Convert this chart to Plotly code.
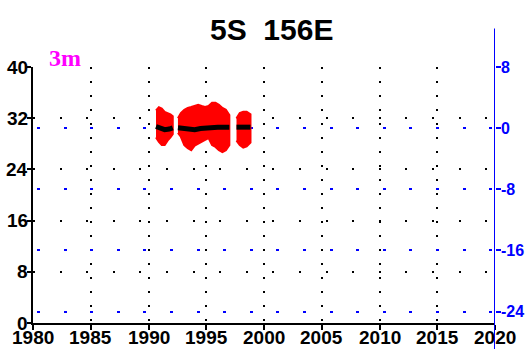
import plotly.graph_objects as go

# ---- data ----
x_ticks = [1980, 1985, 1990, 1995, 2000, 2005, 2010, 2015, 2020]
x_tick_labels = ["1980", "1985", "1990", "1995", "2000", "2005", "2010", "2015", "2020"]
left_ticks = [0, 8, 16, 24, 32, 40]
left_tick_labels = ["0", "8", "16", "24", "32", "40"]
right_ticks = [-24, -16, -8, 0, 8]
right_tick_labels = ["-24", "-16", "-8", "0", "8"]

# red (daily temperature) band: upper / lower envelopes, three segments
seg1_years = [1990.65, 1990.9, 1991.15, 1991.4, 1991.65, 1991.9, 1992.1]
seg1_hi = [33.2, 33.7, 33.5, 33.0, 32.8, 32.6, 32.3]
seg1_lo = [29.0, 28.3, 27.8, 27.8, 28.5, 29.0, 29.5]

seg2_years = [1992.55, 1992.8, 1993.1, 1993.4, 1993.7, 1994.0, 1994.3, 1994.6,
              1994.9, 1995.2, 1995.5, 1995.8, 1996.1, 1996.4, 1996.7, 1997.0]
seg2_hi = [32.0, 32.8, 33.3, 33.6, 33.75, 33.9, 34.1, 33.9,
           33.75, 33.9, 34.4, 34.4, 34.1, 33.6, 33.3, 32.5]
seg2_lo = [29.7, 29.1, 27.8, 27.3, 27.0, 27.7, 28.1, 28.3,
           28.6, 28.9, 27.8, 27.5, 27.0, 26.7, 27.0, 27.8]

seg3_years = [1997.62, 1997.9, 1998.2, 1998.5, 1998.83]
seg3_hi = [32.0, 32.8, 33.0, 33.0, 32.6]
seg3_lo = [28.5, 27.8, 27.4, 27.6, 28.2]

# black smoothed line
black_years = [1990.65, 1991.0, 1991.4, 1991.8, 1992.1, None,
               1992.55, 1993.0, 1993.5, 1994.0, 1994.5, 1995.0, 1995.5, 1996.0, 1996.5, 1997.0, None,
               1997.62, 1998.2, 1998.83]
black_vals = [30.7, 30.5, 30.2, 30.3, 30.5, None,
              30.5, 30.4, 30.3, 30.2, 30.4, 30.5, 30.6, 30.6, 30.6, 30.6, None,
              30.6, 30.6, 30.6]

title_text = "5S  156E"
depth_label = "3m"

FONT = "Liberation Sans, Arial, sans-serif"

fig = go.Figure()

for yrs, hi, lo in [(seg1_years, seg1_hi, seg1_lo),
                    (seg2_years, seg2_hi, seg2_lo),
                    (seg3_years, seg3_hi, seg3_lo)]:
    fig.add_trace(go.Scatter(
        x=yrs + yrs[::-1], y=hi + lo[::-1],
        mode="lines", fill="toself", fillcolor="#ff0000",
        line=dict(color="#ff0000", width=2), showlegend=False, hoverinfo="skip"))

fig.add_trace(go.Scatter(x=black_years, y=black_vals, mode="lines",
                         line=dict(color="#000000", width=5),
                         showlegend=False, connectgaps=False))

# dummy trace to activate right axis
fig.add_trace(go.Scatter(x=[None], y=[None], yaxis="y2", showlegend=False))

annotations = [
    dict(text=title_text, xref="paper", yref="paper", x=0.517, y=1.148,
         xanchor="center", yanchor="middle", showarrow=False,
         font=dict(family=FONT, size=30, color="black", weight="bold")),
    dict(text=depth_label, xref="paper", yref="paper", x=0.03, y=1.035,
         xanchor="left", yanchor="middle", showarrow=False,
         font=dict(family="Liberation Serif, Times New Roman, serif", size=24,
                   color="#ff00ff", weight="bold")),
]
for xv, lab in zip(x_ticks, x_tick_labels):
    annotations.append(dict(text=lab, xref="x", yref="paper", x=xv, y=0,
                            xanchor="center", yanchor="top", yshift=-2,
                            showarrow=False,
                            font=dict(family=FONT, size=19, color="black", weight="bold")))
for yv, lab in zip(left_ticks, left_tick_labels):
    annotations.append(dict(text=lab, xref="paper", yref="y", x=0, y=yv,
                            xanchor="right", yanchor="middle", xshift=-3,
                            showarrow=False,
                            font=dict(family=FONT, size=19, color="black", weight="bold")))
for yv, lab in zip(right_ticks, right_tick_labels):
    annotations.append(dict(text=lab, xref="paper", yref="y2", x=1, y=yv,
                            xanchor="left", yanchor="middle", xshift=4,
                            showarrow=False,
                            font=dict(family=FONT, size=16, color="blue", weight="bold")))

fig.update_layout(
    width=528, height=349,
    margin=dict(l=33, r=33, t=67, b=26, autoexpand=False),
    paper_bgcolor="white", plot_bgcolor="white",
    showlegend=False,
    xaxis=dict(range=[1980, 2020], tickvals=x_ticks, showticklabels=False, automargin=False,
               showline=True, linecolor="black", linewidth=2,
               ticks="outside", ticklen=5, tickwidth=2, tickcolor="black",
               showgrid=True, gridcolor="black", gridwidth=2, griddash="2px,12px",
               zeroline=False),
    yaxis=dict(range=[0, 40], tickvals=left_ticks, showticklabels=False, automargin=False,
               showline=True, linecolor="black", linewidth=2,
               ticks="outside", ticklen=4, tickwidth=2, tickcolor="black",
               showgrid=True, gridcolor="black", gridwidth=2, griddash="2px,24.6px",
               zeroline=False),
    yaxis2=dict(range=[-25.5, 8.0], tickvals=right_ticks, overlaying="y", side="right",
                showline=False, showticklabels=False, automargin=False,
                ticks="outside", ticklen=5, tickwidth=2, tickcolor="blue",
                showgrid=True, gridcolor="blue", gridwidth=2, griddash="0px,4px,3px,19.6px",
                zeroline=False),
    shapes=[dict(type="line", xref="x", yref="paper", x0=2020, x1=2020,
                 y0=-0.2, y1=1.15, line=dict(color="blue", width=2))],
    annotations=annotations,
)

fig.write_html("out.html")
